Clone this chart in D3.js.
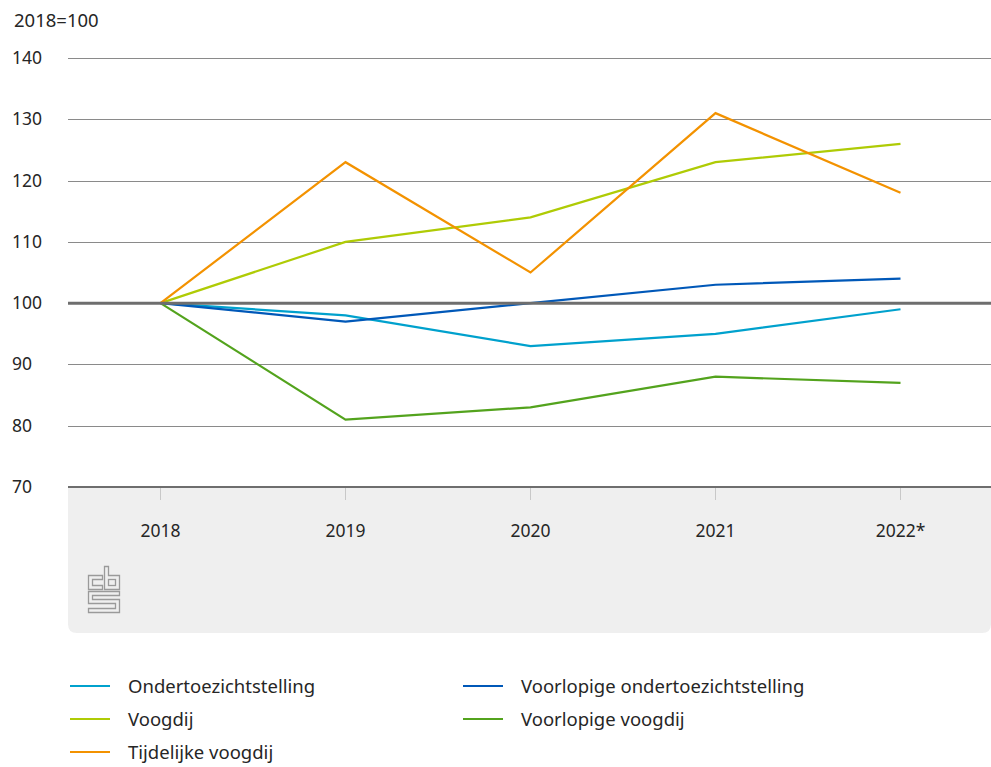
<!DOCTYPE html>
<html>
<head>
<meta charset="utf-8">
<script src="https://cdn.jsdelivr.net/npm/d3@7.9.0/dist/d3.min.js"></script>
<style>
  body { margin: 0; background: #fff; }
  svg text { font-family: "Noto Sans", "Open Sans", sans-serif; fill: #262626; }
</style>
</head>
<body>
<div id="chart"></div>
<script>
// jaren en indexcijfers (2018=100)
const years = ["2018", "2019", "2020", "2021", "2022*"];
const yTicks = [70, 80, 90, 100, 110, 120, 130, 140];

const ondertoezicht = [100, 98, 93, 95, 99];
const voorlopigeOts = [100, 97, 100, 103, 104];
const voogdij = [100, 110, 114, 123, 126];
const voorlopigeVoogdij = [100, 81, 83, 88, 87];
const tijdelijkeVoogdij = [100, 123, 105, 131, 118];

const series = [
  { name: "Ondertoezichtstelling", values: ondertoezicht, color: "#00a1cd" },
  { name: "Voorlopige ondertoezichtstelling", values: voorlopigeOts, color: "#0058b8" },
  { name: "Voogdij", values: voogdij, color: "#afcb05" },
  { name: "Voorlopige voogdij", values: voorlopigeVoogdij, color: "#53a31d" },
  { name: "Tijdelijke voogdij", values: tijdelijkeVoogdij, color: "#f39200" },
];

const width = 991;
const height = 767;
const plot = { left: 68, right: 991, top: 58, bottom: 487 };

const svg = d3
  .select("#chart")
  .append("svg")
  .attr("width", width)
  .attr("height", height);

const xScale = d3.scaleBand().domain(years).range([plot.left, plot.right + 2]);
const yScale = d3.scaleLinear().domain([70, 140]).range([plot.bottom, plot.top]);
const xPos = (d) => xScale(d) + xScale.bandwidth() / 2;

// grijs vlak onder de as
const panelBottom = 633;
const r = 9;
svg
  .append("path")
  .attr(
    "d",
    `M${plot.left},${plot.bottom} H${plot.right} V${panelBottom - r} Q${plot.right},${panelBottom} ${plot.right - r},${panelBottom} H${plot.left + r} Q${plot.left},${panelBottom} ${plot.left},${panelBottom - r} Z`
  )
  .attr("fill", "#efefef");

// y-as label
svg.append("text").attr("x", 14).attr("y", 27).attr("font-size", 18.5).text("2018=100");

// gridlijnen + labels
const grid = svg.append("g");
grid
  .selectAll("line")
  .data(yTicks.filter((d) => d !== 70 && d !== 100))
  .join("line")
  .attr("x1", plot.left)
  .attr("x2", plot.right)
  .attr("y1", (d) => Math.round(yScale(d)) + 0.5)
  .attr("y2", (d) => Math.round(yScale(d)) + 0.5)
  .attr("stroke", "#8a8a8a")
  .attr("stroke-width", 1);

grid
  .selectAll("text")
  .data(yTicks)
  .join("text")
  .attr("x", 12)
  .attr("y", (d) => yScale(d) + 6)
  .attr("font-size", 17.5)
  .text((d) => d);

// x-as tickjes en labels
const xAxis = svg.append("g");
xAxis
  .selectAll("line")
  .data(years)
  .join("line")
  .attr("x1", (d) => xPos(d))
  .attr("x2", (d) => xPos(d))
  .attr("y1", plot.bottom)
  .attr("y2", plot.bottom + 13)
  .attr("stroke", "#c8c8c8")
  .attr("stroke-width", 1);

xAxis
  .selectAll("text")
  .data(years)
  .join("text")
  .attr("x", (d) => xPos(d))
  .attr("y", 537)
  .attr("text-anchor", "middle")
  .attr("font-size", 17.5)
  .text((d) => d);

// basislijn 70
svg
  .append("line")
  .attr("x1", plot.left)
  .attr("x2", plot.right)
  .attr("y1", yScale(70))
  .attr("y2", yScale(70))
  .attr("stroke", "#6e6e6e")
  .attr("stroke-width", 2);

// lijnen
const line = d3
  .line()
  .x((d, i) => xPos(years[i]))
  .y((d) => yScale(d));

svg
  .append("g")
  .selectAll("path")
  .data(series)
  .join("path")
  .attr("d", (d) => line(d.values))
  .attr("fill", "none")
  .attr("stroke", (d) => d.color)
  .attr("stroke-width", 2.2);

// referentielijn 100
svg
  .append("line")
  .attr("x1", plot.left)
  .attr("x2", plot.right)
  .attr("y1", yScale(100))
  .attr("y2", yScale(100))
  .attr("stroke", "#6e6e6e")
  .attr("stroke-width", 3);

// cbs logo (vereenvoudigd)
const logo = svg
  .append("g")
  .attr("transform", "translate(88,566)")
  .attr("fill", "none")
  .attr("stroke", "#9a9a9a")
  .attr("stroke-width", 1.3);
logo.append("path").attr("d", "M0.5,9.5 H14.5 V13.5 H4.5 V19.5 H14.5 V23.5 H0.5 Z");
logo.append("path").attr("d", "M16.5,0.5 H20.5 V9.5 H31.5 V23.5 H16.5 Z");
logo.append("rect").attr("x", 20.5).attr("y", 13.5).attr("width", 7).attr("height", 6);
logo.append("path").attr("d", "M0.5,25.5 H31.5 V29.5 H4.5 V33.5 H31.5 V46.5 H0.5 V42.5 H27.5 V37.5 H0.5 Z");

// legenda
const legendItems = [
  { s: series[0], x: 70, y: 686 },
  { s: series[2], x: 70, y: 719 },
  { s: series[4], x: 70, y: 752 },
  { s: series[1], x: 463, y: 686 },
  { s: series[3], x: 463, y: 719 },
];
const legend = svg.append("g");
const li = legend.selectAll("g").data(legendItems).join("g");
li.append("line")
  .attr("x1", (d) => d.x)
  .attr("x2", (d) => d.x + 40)
  .attr("y1", (d) => d.y)
  .attr("y2", (d) => d.y)
  .attr("stroke", (d) => d.s.color)
  .attr("stroke-width", 2.2);
li.append("text")
  .attr("x", (d) => d.x + 58)
  .attr("y", (d) => d.y + 6.5)
  .attr("font-size", 18.5)
  .text((d) => d.s.name);
</script>
</body>
</html>
